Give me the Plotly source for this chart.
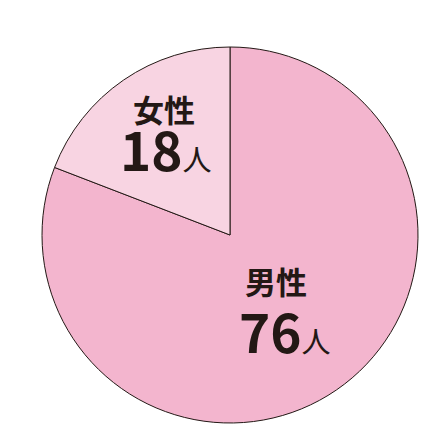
import plotly.graph_objects as go

# Respondents by gender
labels = ["男性", "女性"]
counts = [76, 18]
slice_colors = ["#F3B5CE", "#F8D4E2"]

W, H = 430, 430
OFF = 8  # default page body margin
L, R, T, B = 42 - OFF, 12 + OFF, 47 - OFF, 7 + OFF


def px_to_paper(x, y):
    return (x - OFF - L) / (W - L - R), (H - B - (y - OFF)) / (H - T - B)


fig = go.Figure(go.Pie(
    labels=labels,
    values=counts,
    sort=False,
    direction="clockwise",
    rotation=0,
    textinfo="none",
    hoverinfo="label+value",
    marker=dict(colors=slice_colors, line=dict(color="#231815", width=1)),
))

txt_font = dict(family="Noto Sans CJK JP", color="#231815")
label_pos = {"女性": (164, 108), "男性": (276, 280)}
count_pos = {"女性": (166, 148), "男性": (285, 330)}

for name, n in zip(labels, counts):
    lx, ly = px_to_paper(*label_pos[name])
    cx, cy = px_to_paper(*count_pos[name])
    fig.add_annotation(x=lx, y=ly, xref="paper", yref="paper", showarrow=False,
                       xanchor="center", yanchor="middle",
                       text=f"<b>{name}</b>", font=dict(size=31, **txt_font))
    fig.add_annotation(x=cx, y=cy, xref="paper", yref="paper", showarrow=False,
                       xanchor="center", yanchor="middle",
                       text=f"<b><span style='font-size:53px'>{n}</span></b><span style='font-size:29px'>人</span>",
                       font=dict(size=29, **txt_font))

fig.update_layout(
    width=W, height=H,
    margin=dict(l=L, r=R, t=T, b=B),
    showlegend=False,
    paper_bgcolor="white",
)

fig.write_html("out.html")
